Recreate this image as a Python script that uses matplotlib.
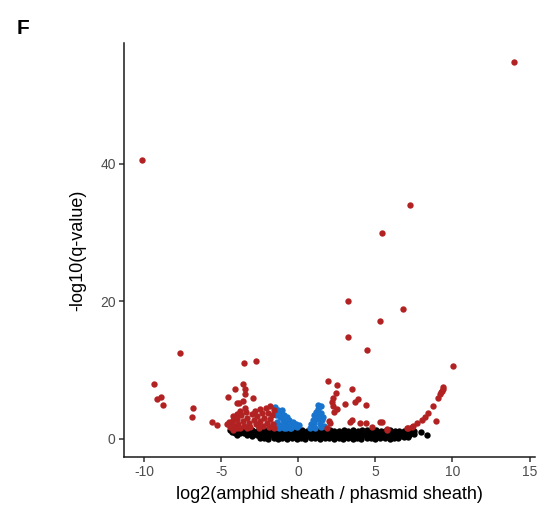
import matplotlib
matplotlib.use("Agg")
import matplotlib.pyplot as plt

plt.rcParams['font.family'] = ['Liberation Sans', 'DejaVu Sans']
plt.rcParams['axes.unicode_minus'] = False

# not significant genes (q >= 0.05)
ns_x = [-2.5, -2.2, -1.95, -1.6, -1.3, -1.05, -0.7, -0.4, -0.1, 0.2, 0.45, 0.8, 1.1, 1.4, 1.75, 2.0, 2.3,
        2.65, 2.9, 3.2, 3.55, 3.8, 4.1, 4.45, 4.7, 5.0, 5.3, 5.6, 5.95, 6.2, 6.5, 6.85, 7.1,
        -3.3, -3.0, -2.7, -2.4, -2.15, -1.8, -1.5, -1.25, -0.9, -0.6, -0.3, 0.05, 0.3, 0.6, 0.95, 1.2,
        1.5, 1.8, 2.1, 2.45, 2.7, 3.0, 3.3, 3.6, 3.95, 4.2, 4.5, 4.8, 5.15, 5.4, 5.7, 6.0, 6.35, 6.6,
        6.9, 7.2, 7.5,
        -4.1, -3.8, -3.5, -3.2, -2.9, -2.6, -2.3, -2.0, -1.7, -1.4, -1.1, -0.8, -0.5, -0.2, 0.1, 0.4,
        0.7, 1.0, 1.3, 1.6, 1.9, 2.2, 2.5, 2.8, 3.1, 3.4, 3.7, 4.0, 4.3, 4.6, 4.9, 5.2, 5.5, 5.8, 6.1,
        6.4, 6.7, 7.0, 7.3,
        -4.4, -4.15, -3.85, -3.6, -3.3, -3.0, -2.7, -2.45, -2.15, -1.85, -1.55, -1.25, -0.95, -0.65,
        -0.35, -0.05, 0.25, 0.55, 0.85, 1.15, 1.45, 1.75, 2.05, 2.35, 2.65, 2.95, 3.25, 3.55, 3.85,
        4.15, 4.45, 4.75, 5.05, 5.35, 5.65, 5.95, 6.25, 6.55, 6.85, 7.15,
        7.95, 8.34, 7.5, 7.4, -4.3, -3.95]
ns_y = [0.1, 0.05, 0.0, 0.08, 0.02, 0.12, 0.0, 0.06, 0.03, 0.1, 0.0, 0.07, 0.04, 0.0, 0.09, 0.05, 0.02,
        0.11, 0.0, 0.06, 0.03, 0.1, 0.0, 0.08, 0.05, 0.02, 0.12, 0.04, 0.0, 0.09, 0.15, 0.2, 0.3,
        0.55, 0.4, 0.5, 0.35, 0.45, 0.5, 0.4, 0.55, 0.45, 0.35, 0.5, 0.42, 0.48, 0.38, 0.52, 0.44,
        0.4, 0.5, 0.36, 0.46, 0.54, 0.41, 0.49, 0.37, 0.45, 0.51, 0.43, 0.39, 0.47, 0.53, 0.4, 0.46,
        0.5, 0.42, 0.55, 0.6, 0.7,
        0.9, 0.85, 0.8, 0.9, 0.82, 0.88, 0.78, 0.92, 0.85, 0.8, 0.9, 0.83, 0.87, 0.79, 0.91, 0.84,
        0.8, 0.88, 0.86, 0.82, 0.9, 0.8, 0.87, 0.83, 0.89, 0.81, 0.86, 0.9, 0.84, 0.8, 0.88, 0.85,
        0.82, 0.9, 0.86, 0.83, 0.88, 0.9, 0.85,
        1.25, 1.2, 1.15, 1.25, 1.2, 1.28, 1.18, 1.22, 1.26, 1.15, 1.2, 1.24, 1.17, 1.21, 1.13, 1.19,
        1.23, 1.16, 1.2, 1.25, 1.18, 1.22, 1.27, 1.15, 1.2, 1.24, 1.19, 1.23, 1.16, 1.21, 1.26, 1.18,
        1.22, 1.2, 1.17, 1.24, 1.2, 1.15, 1.1, 1.05,
        0.92, 0.48, 1.1, 0.95, 1.0, 0.6]

# significant, small fold change
sig_x = [-1.5, -1.45, -1.4, -1.35, -1.3, -1.2, -1.15, -1.1, -1.0, -0.95, -0.9, -0.85, -0.75, -0.7,
         -0.6, -0.5, -0.45, -0.35, -0.25, -0.15, -0.05, 0.05, -1.25, -0.8, -1.05, -0.55,
         0.75, 0.8, 0.9, 0.95, 1.0, 1.05, 1.1, 1.15, 1.2, 1.25, 1.3, 1.35, 1.4, 1.45, 1.5, 1.55,
         1.6, 1.65, 1.45]
sig_y = [4.6, 3.5, 2.4, 1.7, 4.2, 3.1, 2.0, 3.9, 2.7, 1.6, 3.5, 2.3, 3.1, 1.9,
         2.7, 2.2, 1.6, 2.5, 1.9, 2.2, 1.7, 2.0, 1.5, 1.5, 4.2, 1.5,
         1.6, 2.2, 1.8, 2.8, 3.5, 2.3, 1.6, 3.9, 2.9, 4.4, 4.9, 3.3, 2.2, 3.8, 1.7, 2.7,
         3.2, 1.9, 4.7]

# significant, large fold change
de_x = [14.0, -10.1, 7.27, 5.45, 3.25, 6.82, 5.28, 3.25, 4.44, -7.68, -3.5, -2.75, 10.03,
        -9.35, -8.87, -9.15, -8.77, -6.82, -6.92, -5.56, -5.3,
        -3.57, -4.13, -3.42, -3.46, -4.55, -2.92, -3.61, -4.0, -3.83, -3.46, -4.22, -4.26, -4.5, -4.0,
        -4.6, -4.45, -4.3, -4.1, -4.0, -3.9, -3.8, -3.7, -3.6, -3.5, -3.4, -3.3, -3.2, -3.1, -3.0,
        -2.9, -2.8, -2.75, -2.65, -2.55, -2.5, -2.45, -2.35, -2.3, -2.2, -2.1, -2.05, -1.95, -1.9,
        -1.85, -1.8, -1.7, -1.65, -1.6, -1.55, -3.75, -4.2, -3.95, -2.6, -3.35,
        1.95, 2.49, 3.47, 2.45, 2.27, 2.17, 3.9, 3.68, 3.03, 4.4, 2.27, 2.32, 5.3, 3.47, 3.36, 2.0,
        4.0, 4.4, 4.8, 5.74, 2.5, 1.84, 2.06,
        9.42, 9.36, 9.31, 9.25, 9.2, 9.09, 8.77, 8.94, 8.44, 8.23, 8.0, 7.69, 7.47, 7.14, 5.41,
        7.04, 7.36, 5.78]
de_y = [54.8, 40.6, 34.0, 29.9, 20.1, 18.95, 17.2, 14.8, 12.9, 12.55, 11.0, 11.25, 10.66,
        7.95, 6.15, 5.8, 4.95, 4.55, 3.1, 2.5, 2.0,
        8.0, 7.2, 7.2, 6.5, 6.05, 5.9, 5.5, 5.2, 5.2, 4.55, 2.76, 1.3, 2.4, 1.6,
        2.2, 1.7, 2.5, 1.9, 2.9, 2.2, 1.6, 3.4, 2.6, 1.9, 3.9, 3.0, 2.3, 1.7, 3.6,
        2.8, 4.1, 2.1, 3.3, 1.6, 4.3, 2.6, 3.7, 1.9, 3.0, 4.5, 2.3, 3.8, 1.7,
        4.7, 2.9, 3.5, 2.1, 4.2, 1.6, 4.0, 3.3, 3.6, 2.0, 1.5,
        8.4, 7.85, 7.2, 6.7, 5.9, 5.4, 5.8, 5.3, 5.1, 4.9, 4.7, 3.9, 2.5, 2.8, 2.4, 2.6,
        2.3, 2.3, 1.7, 1.3, 4.3, 1.6, 2.35,
        7.6, 7.3, 7.0, 6.8, 6.5, 5.9, 4.8, 2.66, 3.7, 3.2, 2.76, 2.3, 1.9, 1.55, 2.5,
        1.6, 1.7, 1.45]

fig = plt.figure(figsize=(5.4, 5.19), dpi=100)
ax = fig.add_axes([0.2296, 0.1195, 0.761, 0.7975])

dot = 21
ax.scatter(ns_x, ns_y, s=dot, c='black', linewidths=0, zorder=2)
ax.scatter(sig_x, sig_y, s=dot, c='#1874CD', linewidths=0, zorder=3)
ax.scatter(de_x, de_y, s=dot, c='#B22222', linewidths=0, zorder=3)

ax.set_xlim(-11.3, 15.35)
ax.set_ylim(-2.65, 57.6)
ax.set_xticks([-10, -5, 0, 5, 10, 15])
ax.set_yticks([0, 20, 40])

for side in ['top', 'right']:
    ax.spines[side].set_visible(False)
for side in ['left', 'bottom']:
    ax.spines[side].set_color('#1a1a1a')
    ax.spines[side].set_linewidth(1.1)
ax.tick_params(axis='both', colors='#333333', length=3.5, width=1.1,
               labelsize=10, labelcolor='#4d4d4d', pad=2.5)

ax.set_xlabel('log2(amphid sheath / phasmid sheath)', fontsize=13, labelpad=5)
ax.set_ylabel('-log10(q-value)', fontsize=13, labelpad=10)

fig.text(0.03, 0.945, 'F', fontsize=15, fontweight='bold', ha='left', va='center')

fig.savefig('out.png', dpi=100)
